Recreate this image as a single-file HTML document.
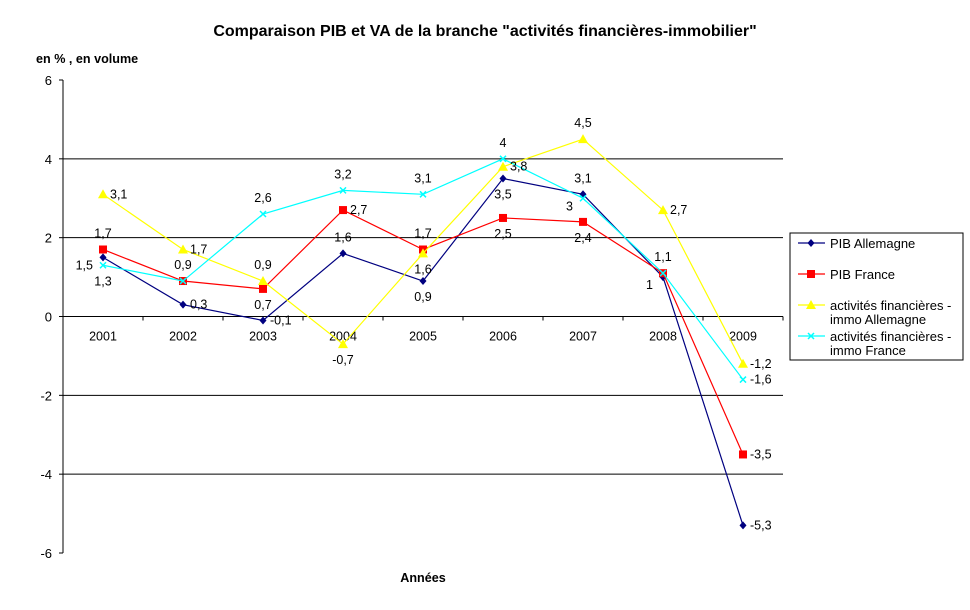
<!DOCTYPE html>
<html><head><meta charset="utf-8"><style>
body{margin:0;background:#fff;font-family:"Liberation Sans",Arial,sans-serif}
svg text{font-family:"Liberation Sans",Arial,sans-serif}
</style></head><body>
<svg id="c" width="970" height="605" xmlns="http://www.w3.org/2000/svg">
<text x="485" y="36" text-anchor="middle" font-size="16" font-weight="bold">Comparaison PIB et VA de la branche "activités financières-immobilier"</text>
<text x="36" y="63" font-size="12.6" font-weight="bold">en % , en volume</text>
<text x="423" y="582" text-anchor="middle" font-size="12.6" font-weight="bold">Années</text>
<g id="grid"></g><g id="series"></g><g id="labels"></g>
<g>
<rect x="790" y="233" width="173" height="127" fill="#fff" stroke="#000"/>
<g id="leg"></g>
</g>
</svg>
<script>
const categories=["2001","2002","2003","2004","2005","2006","2007","2008","2009"];
const pibAllemagne=[1.5,0.3,-0.1,1.6,0.9,3.5,3.1,1.0,-5.3];
const pibFrance=[1.7,0.9,0.7,2.7,1.7,2.5,2.4,1.1,-3.5];
const afiAllemagne=[3.1,1.7,0.9,-0.7,1.6,3.8,4.5,2.7,-1.2];
const afiFrance=[1.3,0.9,2.6,3.2,3.1,4.0,3.0,1.1,-1.6];
const yTicks=[6,4,2,0,-2,-4,-6];
const NS="http://www.w3.org/2000/svg";
const L=63,R=783,T=80,B=553,ymin=-6,ymax=6;
const bw=(R-L)/categories.length;
const x=i=>L+bw*(i+0.5);
const y=v=>B-(v-ymin)/(ymax-ymin)*(B-T);
function mk(tag,attrs,parent){const e=document.createElementNS(NS,tag);for(const k in attrs)e.setAttribute(k,attrs[k]);parent.appendChild(e);return e;}
const grid=document.getElementById('grid');
yTicks.forEach(t=>{
  if(t>-6&&t<6){const g=mk('line',{x1:L,x2:R,y1:y(t),y2:y(t),stroke:'#000','stroke-width':1},grid);
  
  }
  const tk=mk('line',{x1:L-4,x2:L,y1:y(t),y2:y(t),stroke:'#000'},grid);
  
  
  const lb=mk('text',{x:L-11,y:y(t)+5,'text-anchor':'end','font-size':13},grid);
  lb.textContent=t;
  
  
});
const ax=mk('line',{x1:L,x2:L,y1:T,y2:B,stroke:'#000'},grid);


const xa=mk('line',{x1:L,x2:R,y1:y(0),y2:y(0),stroke:'#000'},grid);


categories.forEach((c,i)=>{
  const tk=mk('line',{x1:L+bw*(i+1),x2:L+bw*(i+1),y1:y(0),y2:y(0)+4,stroke:'#000'},grid);
  
  
  const t=mk('text',{x:x(i),y:y(0)+24,'text-anchor':'middle','font-size':12.5},grid);
  t.textContent=c;
  
  
});
const series=[
 {name:'pib-allemagne',data:pibAllemagne,color:'#000080',m:'d',pos:['l','r','r','a','b','b','a','l','r']},
 {name:'pib-france',data:pibFrance,color:'#ff0000',m:'s',pos:['a','a','b','r','a','b','b','a','r']},
 {name:'afi-allemagne',data:afiAllemagne,color:'#ffff00',m:'t',pos:['r','r','a','b','b','r','a','r','r']},
 {name:'afi-france',data:afiFrance,color:'#00ffff',m:'x',pos:['b','','a','a','a','a','l','','r']}
];
function marker(s,cx,cy,g){
  let e;
  if(s.m==='d')e=mk('polygon',{points:`${cx},${cy-4} ${cx+3.5},${cy} ${cx},${cy+4} ${cx-3.5},${cy}`,fill:s.color},g);
  else if(s.m==='s')e=mk('rect',{x:cx-4,y:cy-4,width:8,height:8,fill:s.color},g);
  else if(s.m==='t')e=mk('polygon',{points:`${cx},${cy-5} ${cx+5},${cy+4} ${cx-5},${cy+4}`,fill:s.color},g);
  else e=mk('path',{d:`M${cx-3},${cy-3}L${cx+3},${cy+3}M${cx+3},${cy-3}L${cx-3},${cy+3}`,stroke:s.color,'stroke-width':1.5},g);
  return e;
}
const sg=document.getElementById('series'),lg=document.getElementById('labels');
series.forEach(s=>{
  const g=mk('g',{},sg);
  
  
  const pl=mk('polyline',{points:s.data.map((v,i)=>x(i)+','+y(v)).join(' '),fill:'none',stroke:s.color,'stroke-width':1.2},g);
  
  
  s.data.forEach((v,i)=>{
    const m=marker(s,x(i),y(v),g);
    
    
    const p=s.pos[i]; if(!p)return;
    let tx=x(i),ty=y(v)+4,an='middle';
    if(p==='a')ty=y(v)-12;else if(p==='b')ty=y(v)+20;else if(p==='r'){tx+=7;an='start';}else if(p==='l'){tx-=10;ty+=8;an='end';}
    const t=mk('text',{x:tx,y:ty,'text-anchor':an,'font-size':12.5},lg);
    t.textContent=String(v).replace('.',',');
    
    
  });
});
const leg=document.getElementById('leg');
const legText=[["PIB Allemagne"],["PIB France"],["activités financières -","immo Allemagne"],["activités financières -","immo France"]];
const legY=[243,274,305,336];
series.forEach((s,i)=>{
  const g=mk('g',{},leg);
  
  
  mk('line',{x1:798,x2:825,y1:legY[i],y2:legY[i],stroke:s.color,'stroke-width':1.2},g);
  marker(s,811,legY[i],g);
  legText[i].forEach((t,k)=>{const e=mk('text',{x:830,y:legY[i]+5+k*14,'font-size':13},g);e.textContent=t;});
});
</script>
</body></html>
